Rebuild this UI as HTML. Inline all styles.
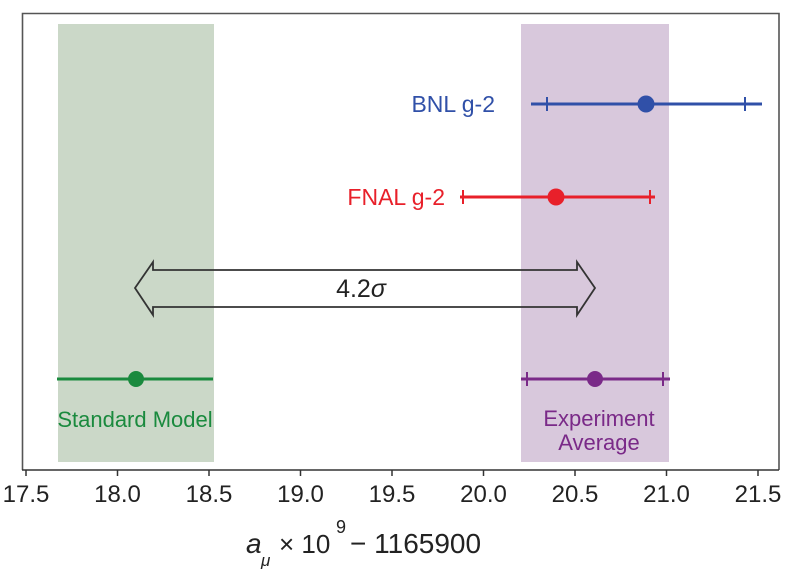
<!DOCTYPE html>
<html><head><meta charset="utf-8"><style>
html,body{margin:0;padding:0;background:#fff;}
svg{display:block;font-family:"Liberation Sans",sans-serif;}
</style></head><body>
<svg width="800" height="575" viewBox="0 0 800 575" xmlns="http://www.w3.org/2000/svg">
<rect x="58" y="24" width="156" height="438" fill="#cbd8c8"/>
<rect x="521" y="24" width="148" height="438" fill="#d8c8dc"/>
<path d="M22.5 470 V13.5 H779 V470" fill="none" stroke="#555" stroke-width="1.6"/>
<line x1="22" y1="470" x2="779" y2="470" stroke="#333" stroke-width="1.6"/>
<g stroke="#333" stroke-width="1.5">
<line x1="26" y1="470" x2="26" y2="476"/><line x1="117.5" y1="470" x2="117.5" y2="476"/>
<line x1="209" y1="470" x2="209" y2="476"/><line x1="300.5" y1="470" x2="300.5" y2="476"/>
<line x1="392" y1="470" x2="392" y2="476"/><line x1="483.5" y1="470" x2="483.5" y2="476"/>
<line x1="575" y1="470" x2="575" y2="476"/><line x1="666.5" y1="470" x2="666.5" y2="476"/>
<line x1="758" y1="470" x2="758" y2="476"/>
</g>
<g font-size="24" fill="#222" text-anchor="middle">
<text x="26" y="502">17.5</text><text x="117.5" y="502">18.0</text><text x="209" y="502">18.5</text>
<text x="300.5" y="502">19.0</text><text x="392" y="502">19.5</text><text x="483.5" y="502">20.0</text>
<text x="575" y="502">20.5</text><text x="666.5" y="502">21.0</text><text x="758" y="502">21.5</text>
</g>
<g stroke="#3050a8" stroke-width="3"><line x1="531" y1="104" x2="762" y2="104"/>
<line x1="547" y1="97" x2="547" y2="111" stroke-width="2"/><line x1="745" y1="97" x2="745" y2="111" stroke-width="2"/></g>
<circle cx="646" cy="104" r="8.5" fill="#3050a8"/>
<text x="495" y="112" font-size="23" fill="#3050a8" text-anchor="end">BNL g-2</text>
<g stroke="#e8202a" stroke-width="3"><line x1="460" y1="197" x2="655" y2="197"/>
<line x1="463" y1="190" x2="463" y2="204" stroke-width="2"/><line x1="650" y1="190" x2="650" y2="204" stroke-width="2"/></g>
<circle cx="556" cy="197" r="8.5" fill="#e8202a"/>
<text x="445" y="205" font-size="23" fill="#e8202a" text-anchor="end">FNAL g-2</text>
<path d="M135 288 L153 262 L153 270 L577 270 L577 262 L595 288 L577 315 L577 307 L153 307 L153 315 Z" fill="none" stroke="#333" stroke-width="1.8"/>
<text x="361" y="297" font-size="25" fill="#222" text-anchor="middle">4.2<tspan font-style="italic">σ</tspan></text>
<line x1="57" y1="379" x2="213" y2="379" stroke="#1a8a3e" stroke-width="3"/>
<circle cx="136" cy="379" r="8" fill="#1a8a3e"/>
<text x="135" y="427" font-size="22" fill="#1a8a3e" text-anchor="middle">Standard Model</text>
<g stroke="#7a2a88" stroke-width="3"><line x1="521" y1="379" x2="670" y2="379"/>
<line x1="527" y1="372" x2="527" y2="386" stroke-width="2"/><line x1="663" y1="372" x2="663" y2="386" stroke-width="2"/></g>
<circle cx="595" cy="379" r="8" fill="#7a2a88"/>
<text x="599" y="426" font-size="22" fill="#7a2a88" text-anchor="middle">Experiment</text>
<text x="599" y="450" font-size="22" fill="#7a2a88" text-anchor="middle">Average</text>
<g fill="#222">
<text x="246" y="553" font-size="28" font-style="italic">a</text>
<text x="261" y="566" font-size="17" font-style="italic">μ</text>
<text x="279" y="553" font-size="26">× 10</text>
<text x="336" y="533" font-size="18">9</text>
<text x="350" y="553" font-size="28">− 1165900</text>
</g>
</svg>
</body></html>
